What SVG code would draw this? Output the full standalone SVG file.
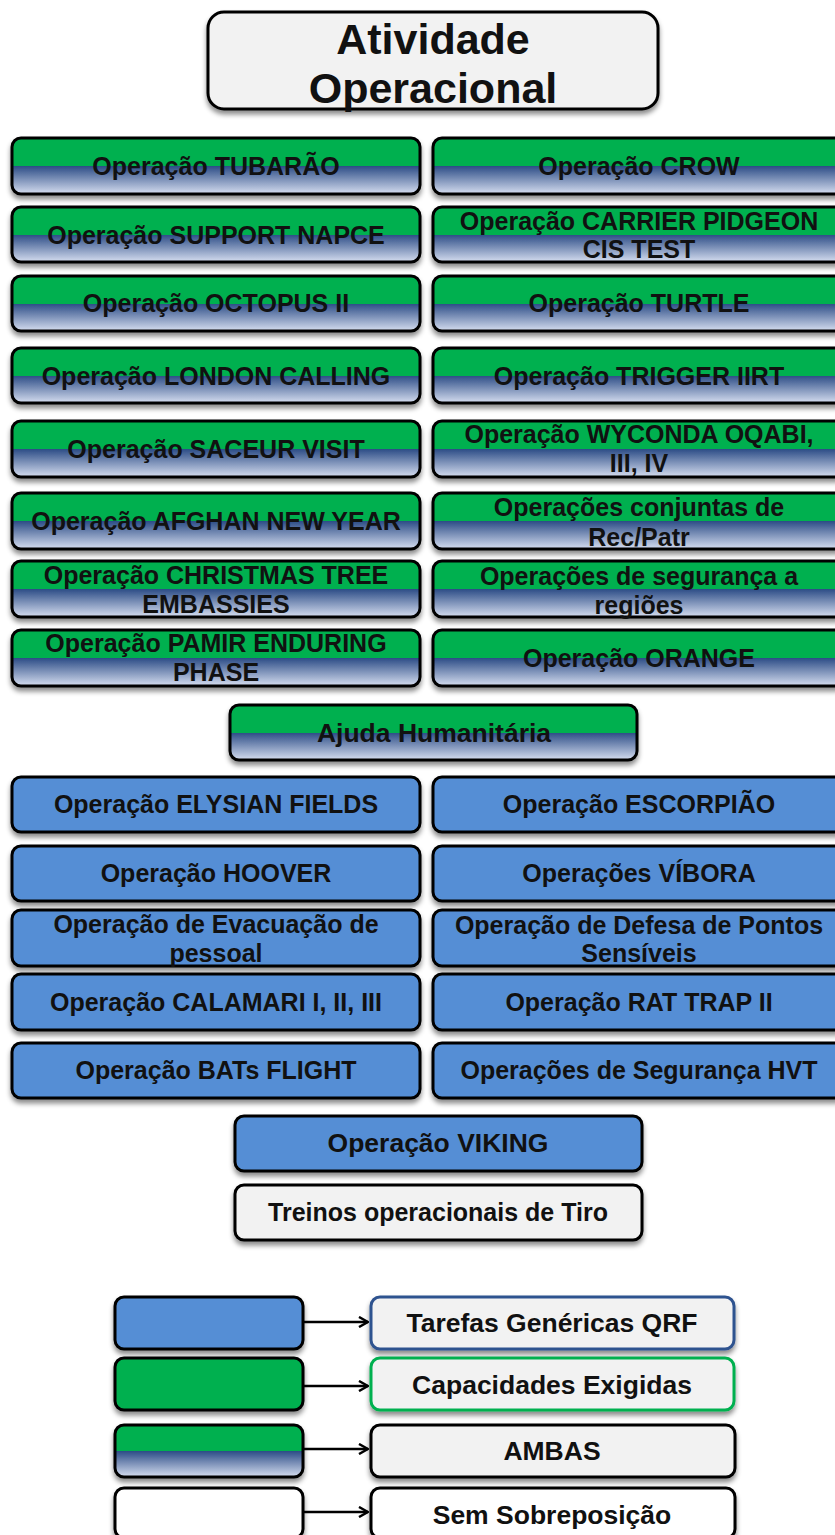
<svg xmlns="http://www.w3.org/2000/svg" width="835" height="1535" viewBox="0 0 835 1535">
<defs>
  <linearGradient id="both" x1="0" y1="0" x2="0" y2="1">
    <stop offset="0" stop-color="#00b050"/>
    <stop offset="0.5" stop-color="#00b050"/>
    <stop offset="0.5" stop-color="#2c4c86"/>
    <stop offset="1" stop-color="#d6def0"/>
  </linearGradient>
  <filter id="sh" x="-5%" y="-10%" width="110%" height="130%">
    <feDropShadow dx="0" dy="4" stdDeviation="2.5" flood-color="#000" flood-opacity="0.45"/>
  </filter>
  <marker id="arr" viewBox="0 0 12 12" refX="11" refY="6" markerWidth="12" markerHeight="12" markerUnits="userSpaceOnUse" orient="auto">
    <path d="M2,1 L11,6 L2,11" fill="none" stroke="#000" stroke-width="2.5"/>
  </marker>
</defs>
<style>
  rect { stroke: #000; stroke-width: 3; filter: url(#sh); }
  .g { fill: url(#both); }
  .b { fill: #558ed5; }
  .w { fill: #f2f2f2; }
  .wh { fill: #ffffff; }
  text { font-family: "Liberation Sans", Arial, sans-serif; font-weight: bold; font-size: 25px; fill: #111; text-anchor: middle; }
  .title { font-size: 43px; }
  .lg { font-size: 26.5px; }
  .conn line { stroke: #000; stroke-width: 2.5; marker-end: url(#arr); }
</style>
<rect width="835" height="1535" fill="#fff" style="stroke:none;filter:none"/>

<g id="title">
  <rect class="w" x="208" y="12" width="450" height="97" rx="16"/>
  <text class="title" x="433" y="54">Atividade</text>
  <text class="title" x="433" y="103">Operacional</text>
</g>

<g id="tubarao"><rect class="g" x="12" y="138" width="408" height="56" rx="9"/><text x="216" y="175">Operação TUBARÃO</text></g>
<g id="crow"><rect class="g" x="433" y="138" width="412" height="56" rx="9"/><text x="639" y="175">Operação CROW</text></g>

<g id="support"><rect class="g" x="12" y="207" width="408" height="55" rx="9"/><text x="216" y="244">Operação SUPPORT NAPCE</text></g>
<g id="carrier"><rect class="g" x="433" y="207" width="412" height="55" rx="9"/><text x="639" y="230">Operação CARRIER PIDGEON</text><text x="639" y="258">CIS TEST</text></g>

<g id="octopus"><rect class="g" x="12" y="276" width="408" height="55" rx="9"/><text x="216" y="312">Operação OCTOPUS II</text></g>
<g id="turtle"><rect class="g" x="433" y="276" width="412" height="55" rx="9"/><text x="639" y="312">Operação TURTLE</text></g>

<g id="london"><rect class="g" x="12" y="348" width="408" height="55" rx="9"/><text x="216" y="385">Operação LONDON CALLING</text></g>
<g id="trigger"><rect class="g" x="433" y="348" width="412" height="55" rx="9"/><text x="639" y="385">Operação TRIGGER IIRT</text></g>

<g id="saceur"><rect class="g" x="12" y="421" width="408" height="56" rx="9"/><text x="216" y="458">Operação SACEUR VISIT</text></g>
<g id="wyconda"><rect class="g" x="433" y="421" width="412" height="56" rx="9"/><text x="639" y="443">Operação WYCONDA OQABI,</text><text x="639" y="472">III, IV</text></g>

<g id="afghan"><rect class="g" x="12" y="493" width="408" height="56" rx="9"/><text x="216" y="530">Operação AFGHAN NEW YEAR</text></g>
<g id="conjuntas"><rect class="g" x="433" y="493" width="412" height="56" rx="9"/><text x="639" y="516">Operações conjuntas de</text><text x="639" y="546">Rec/Patr</text></g>

<g id="christmas"><rect class="g" x="12" y="561" width="408" height="56" rx="9"/><text x="216" y="584">Operação CHRISTMAS TREE</text><text x="216" y="613">EMBASSIES</text></g>
<g id="seguranca"><rect class="g" x="433" y="561" width="412" height="56" rx="9"/><text x="639" y="585">Operações de segurança a</text><text x="639" y="614">regiões</text></g>

<g id="pamir"><rect class="g" x="12" y="630" width="408" height="56" rx="9"/><text x="216" y="652">Operação PAMIR ENDURING</text><text x="216" y="681">PHASE</text></g>
<g id="orange"><rect class="g" x="433" y="630" width="412" height="56" rx="9"/><text x="639" y="667">Operação ORANGE</text></g>

<g id="ajuda"><rect class="g" x="230" y="705" width="407" height="55" rx="9"/><text class="lg" x="434" y="742">Ajuda Humanitária</text></g>

<g id="elysian"><rect class="b" x="12" y="777" width="408" height="55" rx="9"/><text x="216" y="813">Operação ELYSIAN FIELDS</text></g>
<g id="escorpiao"><rect class="b" x="433" y="777" width="412" height="55" rx="9"/><text x="639" y="813">Operação ESCORPIÃO</text></g>

<g id="hoover"><rect class="b" x="12" y="846" width="408" height="55" rx="9"/><text x="216" y="882">Operação HOOVER</text></g>
<g id="vibora"><rect class="b" x="433" y="846" width="412" height="55" rx="9"/><text x="639" y="882">Operações VÍBORA</text></g>

<g id="evacuacao"><rect class="b" x="12" y="910" width="408" height="56" rx="9"/><text x="216" y="933">Operação de Evacuação de</text><text x="216" y="962">pessoal</text></g>
<g id="defesa"><rect class="b" x="433" y="910" width="412" height="56" rx="9"/><text x="639" y="934">Operação de Defesa de Pontos</text><text x="639" y="962">Sensíveis</text></g>

<g id="calamari"><rect class="b" x="12" y="974" width="408" height="56" rx="9"/><text x="216" y="1011">Operação CALAMARI I, II, III</text></g>
<g id="rattrap"><rect class="b" x="433" y="974" width="412" height="56" rx="9"/><text x="639" y="1011">Operação RAT TRAP II</text></g>

<g id="bats"><rect class="b" x="12" y="1043" width="408" height="55" rx="9"/><text x="216" y="1079">Operação BATs FLIGHT</text></g>
<g id="hvt"><rect class="b" x="433" y="1043" width="412" height="55" rx="9"/><text x="639" y="1079">Operações de Segurança HVT</text></g>

<g id="viking"><rect class="b" x="235" y="1116" width="407" height="55" rx="9"/><text class="lg" x="438" y="1152">Operação VIKING</text></g>
<g id="treinos"><rect class="w" x="235" y="1185" width="407" height="55" rx="9"/><text x="438" y="1221">Treinos operacionais de Tiro</text></g>

<g id="leg-blue"><rect class="b" x="115" y="1297" width="188" height="52" rx="9"/></g>
<g id="leg-green"><rect x="115" y="1358" width="188" height="52" rx="9" style="fill:#00b050"/></g>
<g id="leg-both"><rect class="g" x="115" y="1425" width="188" height="52" rx="9"/></g>
<g id="leg-white"><rect class="wh" x="115" y="1488" width="188" height="50" rx="9"/></g>

<g id="tarefas"><rect class="w" x="371" y="1297" width="363" height="52" rx="9" style="stroke:#2f528f"/><text class="lg" x="552" y="1332">Tarefas Genéricas QRF</text></g>
<g id="capacidades"><rect class="w" x="371" y="1358" width="363" height="52" rx="9" style="stroke:#00b050"/><text class="lg" x="552" y="1394">Capacidades Exigidas</text></g>
<g id="ambas"><rect class="w" x="371" y="1425" width="364" height="52" rx="9"/><text class="lg" x="552" y="1460">AMBAS</text></g>
<g id="sem"><rect class="wh" x="371" y="1488" width="364" height="50" rx="9"/><text class="lg" x="552" y="1524">Sem Sobreposição</text></g>

<g class="conn">
  <line x1="303" y1="1322" x2="368" y2="1322"/>
  <line x1="303" y1="1386" x2="368" y2="1386"/>
  <line x1="303" y1="1449" x2="368" y2="1449"/>
  <line x1="303" y1="1512" x2="368" y2="1512"/>
</g>
</svg>
